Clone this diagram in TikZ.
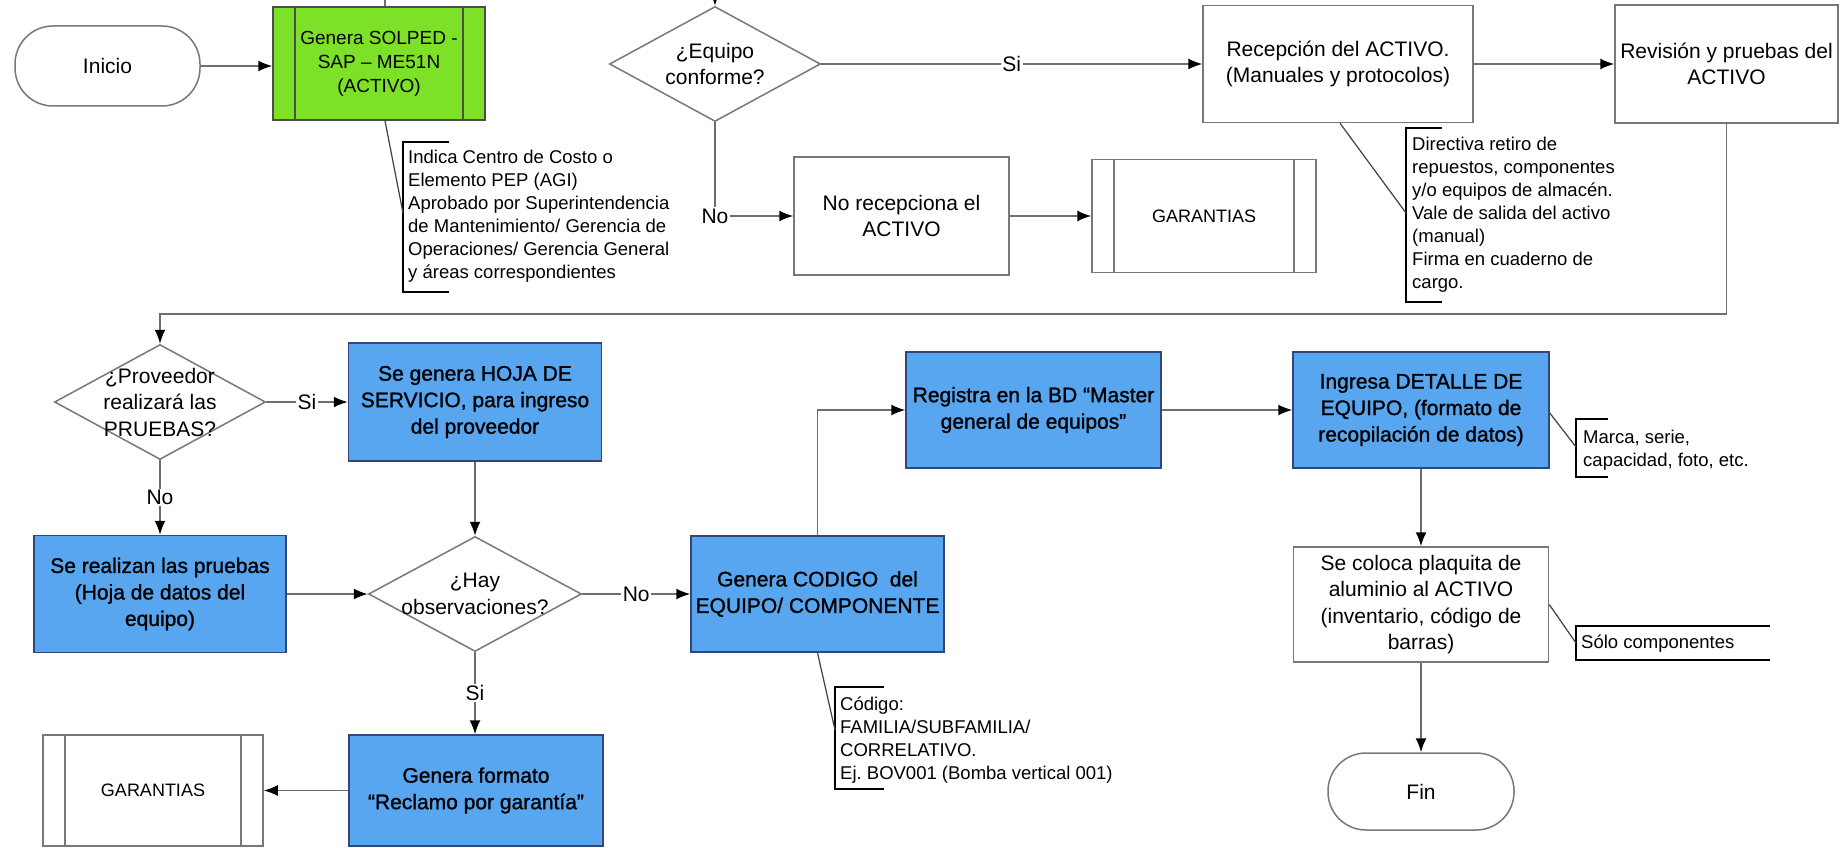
\documentclass[tikz,border=0pt]{standalone}
\usepackage{fontspec}
\setmainfont{Liberation Sans}
\newfontfamily\heavyfont[FakeBold=1.2]{Liberation Sans}
\usetikzlibrary{arrows.meta,shapes.geometric,calc}

\definecolor{procblue}{RGB}{88,166,240}
\definecolor{procgreen}{RGB}{125,225,40}
\definecolor{lineg}{RGB}{110,110,110}
\definecolor{edgeblue}{RGB}{50,70,120}
\definecolor{edgegray}{RGB}{120,120,120}

\begin{document}
\frenchspacing
\begin{tikzpicture}[x=1pt, y=-1pt,
  conn/.style={draw=lineg, line width=1.6pt, -{Latex[length=14pt,width=11pt,color=black]}},
  wh/.style 2 args={minimum width=#1pt, minimum height=#2pt},
  boxtext/.style={font=\fontsize{21}{26.5}\selectfont, align=center, inner sep=0pt},
  plainbox/.style={boxtext, rectangle, draw=edgegray, line width=1.5pt, fill=white},
  actbox/.style={boxtext, rectangle, draw=edgeblue, line width=1.5pt, fill=procblue,
    font=\heavyfont\fontsize{21}{26.5}\selectfont},
  terminal/.style={boxtext, rectangle, rounded corners=38pt, draw=edgegray, line width=1.5pt, fill=white},
  decision/.style={diamond, draw=edgegray, line width=1.5pt, fill=white, inner sep=0pt},
  subproc/.style={path picture={
    \draw[draw=#1, line width=1.2pt]
      ([xshift=22pt]path picture bounding box.north west) -- ([xshift=22pt]path picture bounding box.south west)
      ([xshift=-22pt]path picture bounding box.north east) -- ([xshift=-22pt]path picture bounding box.south east);}},
  garbox/.style={plainbox, subproc=edgegray, font=\fontsize{18}{22}\selectfont},
  lbl/.style={font=\fontsize{21}{21}\selectfont, fill=white, inner sep=1.5pt},
  notetext/.style={font=\fontsize{18.5}{23}\selectfont, align=left, inner sep=0pt, anchor=north west},
  bracket/.style={draw=black, line width=2pt},
  noteline/.style={draw=black!75, line width=1.2pt}
]
\useasboundingbox (0,0) rectangle (1848,848);
\clip (0,0) rectangle (1848,848);
\fill[white] (0,0) rectangle (1848,848);

% ---- top row ----
\node[terminal, wh={185}{80}] (inicio) at (107.5,66) {Inicio};
\node[boxtext, rectangle, draw=black!70, line width=1.5pt, fill=procgreen, subproc=black!70,
      wh={212}{113}, font=\fontsize{19}{24}\selectfont] (solped) at (379,63.5)
      {Genera SOLPED -\\SAP – ME51N\\(ACTIVO)};
\node[decision, wh={211}{115}, label={[boxtext]center:{¿Equipo\\conforme?}}] (equipo) at (715,64) {};
\node[plainbox, wh={270}{117}] (recep) at (1338,64) {Recepción del ACTIVO.\\(Manuales y protocolos)};
\node[plainbox, wh={223}{118}] (revis) at (1726.5,64) {Revisión y pruebas del\\ACTIVO};
\node[plainbox, wh={215}{118}] (norec) at (901.5,216) {No recepciona el\\ACTIVO};
\node[garbox, wh={224}{113}] (gar1) at (1204,216) {GARANTIAS};

% ---- middle and bottom rows ----
\node[decision, wh={211}{115}, label={[boxtext]center:{¿Proveedor\\realizará las\\PRUEBAS?}}] (prov) at (160,402) {};
\node[actbox, wh={253}{118}] (hoja) at (475,402) {Se genera HOJA DE\\SERVICIO, para ingreso\\del proveedor};
\node[actbox, wh={252}{117}] (pruebas) at (160,594) {Se realizan las pruebas\\(Hoja de datos del\\equipo)};
\node[decision, wh={213}{115}, label={[boxtext]center:{¿Hay\\observaciones?}}] (hay) at (475,594) {};
\node[actbox, wh={253}{116}] (codigo) at (817.5,594) {Genera CODIGO\ \ del\\EQUIPO/ COMPONENTE};
\node[actbox, wh={255}{116}] (registra) at (1033.5,410) {Registra en la BD “Master\\general de equipos”};
\node[actbox, wh={256}{116}] (detalle) at (1421,410) {Ingresa DETALLE DE\\EQUIPO, (formato de\\recopilación de datos)};
\node[plainbox, wh={255}{115}] (placa) at (1421,604.5) {Se coloca plaquita de\\aluminio al ACTIVO\\(inventario, código de\\barras)};
\node[terminal, wh={186}{77}] (fin) at (1421,791.5) {Fin};
\node[actbox, wh={254}{111}] (reclamo) at (476,790.5) {Genera formato\\“Reclamo por garantía”};
\node[garbox, wh={220}{111}] (gar2) at (153,790.5) {GARANTIAS};

% ---- connectors ----
\draw[conn] (inicio.east) -- (inicio.east -| solped.west);
\draw[conn] ([xshift=6pt]solped.north) -- ++(0,-40) -| (equipo.north);
\draw[conn] (equipo.east) -- node[lbl]{Si} (equipo.east -| recep.west);
\draw[conn] (equipo.south) |- node[lbl, pos=0.5]{No} (norec.west);
\draw[conn] (norec.east) -- (gar1.west);
\draw[conn] (recep.east) -- (revis.west);
\draw[conn] (revis.south) -- ++(0,190) -| (prov.north);
\draw[conn] (prov.east) -- node[lbl]{Si} (hoja.west);
\draw[conn] (prov.south) -- node[lbl]{No} (pruebas.north);
\draw[conn] (hoja.south) -- (hay.north);
\draw[conn] (pruebas.east) -- (hay.west);
\draw[conn] (hay.east) -- node[lbl]{No} (codigo.west);
\draw[conn] (hay.south) -- node[lbl]{Si} (hay.south |- reclamo.north);
\draw[conn] (reclamo.west) -- (gar2.east);
\draw[conn] (codigo.north) |- (registra.west);
\draw[conn] (registra.east) -- (detalle.west);
\draw[conn] (detalle.south) -- (placa.north);
\draw[conn] (placa.south) -- (fin.north);

% ---- notes ----
\coordinate (n1) at (403,213);
\draw[bracket] (449,142) -- (403,142) -- (403,292) -- (449,292);
\draw[noteline] ([xshift=6pt]solped.south) -- (n1);
\node[notetext] (n1t) at (408,150) {Indica Centro de Costo o\\Elemento PEP (AGI)\\Aprobado por Superintendencia\\de Mantenimiento/ Gerencia de\\Operaciones/ Gerencia General\\y áreas correspondientes};

\coordinate (n2) at (1406,213);
\draw[bracket] (1442,128) -- (1406,128) -- (1406,302) -- (1442,302);
\draw[noteline] ([xshift=2pt]recep.south) -- (n2);
\node[notetext] (n2t) at (1412,137) {Directiva retiro de\\repuestos, componentes\\y/o equipos de almacén.\\Vale de salida del activo\\(manual)\\Firma en cuaderno de\\cargo.};

\coordinate (n3) at (835,730);
\draw[bracket] (884,687) -- (835,687) -- (835,789) -- (884,789);
\draw[noteline] (codigo.south) -- (n3);
\node[notetext] (n3t) at (840,697) {Código:\\FAMILIA/SUBFAMILIA/\\CORRELATIVO.\\Ej. BOV001 (Bomba vertical 001)};

\coordinate (n4) at (1576,447);
\draw[bracket] (1608,419) -- (1576,419) -- (1576,477) -- (1608,477);
\draw[noteline] ([yshift=-3pt]detalle.east) -- (n4);
\node[notetext] (n4t) at (1583,430) {Marca, serie,\\capacidad, foto, etc.};

\coordinate (n5) at (1576,643);
\draw[bracket] (1770,626) -- (1576,626) -- (1576,660) -- (1770,660);
\draw[noteline] (placa.east) -- (n5);
\node[notetext] (n5t) at (1581,635) {Sólo componentes};
\end{tikzpicture}
\end{document}
